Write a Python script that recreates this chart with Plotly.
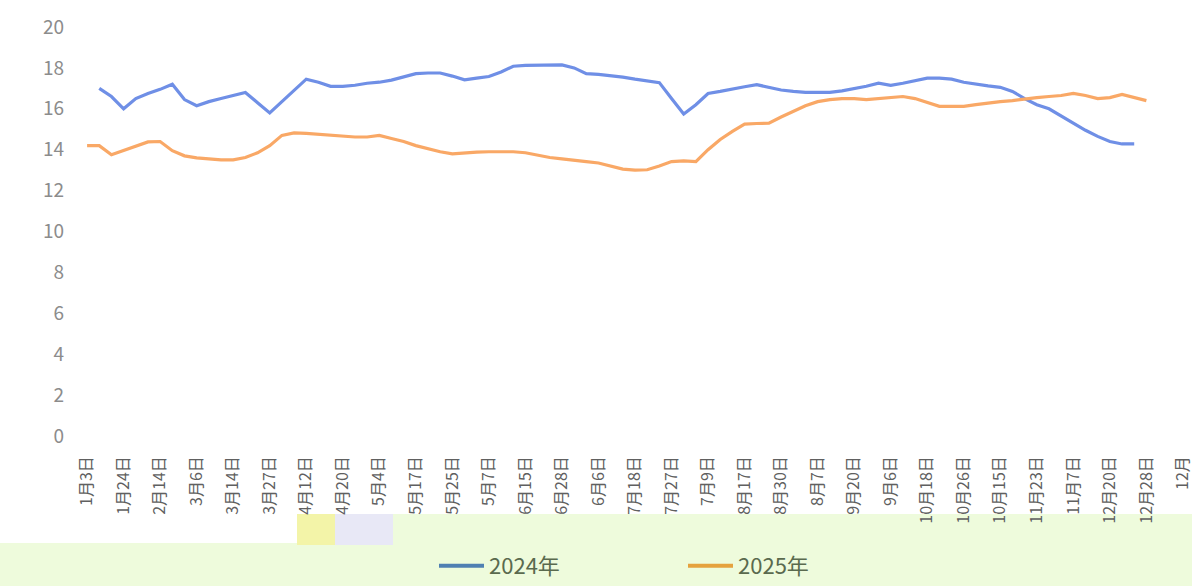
import plotly.graph_objects as go

# ---- data -------------------------------------------------------------
tick_labels = ["1月3日", "1月24日", "2月14日", "3月6日", "3月14日", "3月27日",
               "4月12日", "4月20日", "5月4日", "5月17日", "5月25日", "5月7日",
               "6月15日", "6月28日", "6月6日", "7月18日", "7月27日", "7月9日",
               "8月17日", "8月30日", "8月7日", "9月20日", "9月6日", "10月18日",
               "10月26日", "10月15日", "11月23日", "11月7日", "12月20日",
               "12月28日", "12月"]
label_step = 3
n_points = 91

series_2024 = [None, 17.0, 16.6, 16.0, 16.5, 16.75, 16.95, 17.2, 16.45, 16.15,
               16.35, 16.5, 16.65, 16.8, 16.3, 15.8, 16.35, 16.9, 17.45, 17.3,
               17.1, 17.1, 17.15, 17.25, 17.3, 17.4, 17.55, 17.72, 17.75, 17.75,
               17.6, 17.42, 17.5, 17.58, 17.8, 18.08, 18.12, 18.14, 18.15, 18.15,
               18.0, 17.72, 17.68, 17.62, 17.55, 17.45, 17.38, 17.28, 16.5, 15.75,
               16.2, 16.75, 16.85, 16.98, 17.08, 17.18, 17.05, 16.92, 16.85, 16.8,
               16.8, 16.8, 16.88, 16.98, 17.1, 17.25, 17.15, 17.25, 17.38, 17.5,
               17.5, 17.45, 17.3, 17.2, 17.12, 17.05, 16.85, 16.5, 16.2, 16.0,
               15.65, 15.3, 14.95, 14.65, 14.4, 14.28, 14.28, None, None, None, None]

series_2025 = [14.2, 14.2, 13.75, 13.95, 14.15, 14.38, 14.4, 13.95, 13.7, 13.6,
               13.55, 13.5, 13.5, 13.62, 13.85, 14.2, 14.7, 14.82, 14.8, 14.75,
               14.7, 14.65, 14.62, 14.62, 14.7, 14.55, 14.4, 14.2, 14.05, 13.9,
               13.8, 13.85, 13.88, 13.9, 13.9, 13.9, 13.85, 13.72, 13.62, 13.55,
               13.5, 13.42, 13.35, 13.2, 13.05, 13.0, 13.02, 13.2, 13.42, 13.45,
               13.42, 14.0, 14.5, 14.9, 15.25, 15.28, 15.3, 15.6, 15.88, 16.15,
               16.35, 16.45, 16.5, 16.5, 16.45, 16.5, 16.55, 16.6, 16.5, 16.3,
               16.12, 16.12, 16.12, 16.2, 16.28, 16.35, 16.4, 16.48, 16.55, 16.6,
               16.65, 16.75, 16.65, 16.5, 16.55, 16.7, 16.55, 16.4, None, None, None]

y_ticks = [0, 2, 4, 6, 8, 10, 12, 14, 16, 18, 20]
series_names = ["2024年", "2025年"]

# ---- styling ----------------------------------------------------------
W, H = 1192, 586
ML, MR, MT, MB = 81, 3, 27, 150
FONT = "Noto Sans CJK SC, Noto Sans, sans-serif"
line_colors = ["#6f8fe6", "#f9a866"]
legend_colors = ["#4f80b2", "#e5a23e"]
GREEN = "#eefbdc"

x_idx = list(range(n_points))
tick_vals = x_idx[::label_step]

fig = go.Figure()
for name, ys, c in zip(series_names, [series_2024, series_2025], line_colors):
    fig.add_trace(go.Scatter(x=x_idx, y=ys, mode="lines", name=name,
                             line=dict(color=c, width=3.2), showlegend=False,
                             connectgaps=False, hoverinfo="skip"))
for name, c in zip(series_names, legend_colors):
    fig.add_trace(go.Scatter(x=[None], y=[None], mode="lines", name=name,
                             line=dict(color=c, width=4), showlegend=True))

pw = W - ML - MR
ph = H - MT - MB


def px_x(p):
    return (p - ML) / pw


def px_y(p):
    return (H - MB - p) / ph


shapes = [
    dict(type="rect", xref="paper", yref="paper", layer="below",
         x0=px_x(0), x1=px_x(W), y0=px_y(543), y1=px_y(H),
         fillcolor=GREEN, line=dict(width=0)),
    dict(type="rect", xref="paper", yref="paper", layer="below",
         x0=px_x(297), x1=px_x(W), y0=px_y(514), y1=px_y(543),
         fillcolor=GREEN, line=dict(width=0)),
    dict(type="rect", xref="paper", yref="paper", layer="below",
         x0=px_x(297), x1=px_x(335), y0=px_y(514), y1=px_y(545),
         fillcolor="#f3f4a8", line=dict(width=0)),
    dict(type="rect", xref="paper", yref="paper", layer="below",
         x0=px_x(335), x1=px_x(393), y0=px_y(514), y1=px_y(545),
         fillcolor="#e8e8f6", line=dict(width=0)),
]

fig.update_layout(
    width=W, height=H,
    margin=dict(l=ML, r=MR, t=MT, b=MB, pad=0, autoexpand=False),
    paper_bgcolor="white", plot_bgcolor="white",
    font=dict(family=FONT),
    shapes=shapes,
    showlegend=True,
    legend=dict(orientation="h", x=px_x(434), xanchor="left",
                y=px_y(566), yanchor="middle",
                bgcolor="rgba(0,0,0,0)",
                font=dict(size=22, color="#5a6a4e", family=FONT),
                itemwidth=45,
                entrywidth=189, entrywidthmode="pixels"),
    xaxis=dict(range=[-0.5, n_points - 0.5], tickmode="array",
               tickvals=tick_vals, ticktext=tick_labels, tickangle=-90,
               tickfont=dict(size=16, color="#606060", family=FONT),
               showgrid=False, zeroline=False, showline=False, ticks="",
               ticklabelstandoff=16, automargin=False,
               ticklabeloverflow="allow"),
    yaxis=dict(range=[0, 20], tickmode="array", tickvals=y_ticks,
               tickfont=dict(size=19, color="#8c8c8c", family=FONT),
               showgrid=False, zeroline=False, showline=False, ticks="",
               ticklabelstandoff=16, automargin=False),
)

fig.write_html("out.html",
               config={"displayModeBar": False},
               post_script="document.body.style.margin='0';"
                           "document.body.style.overflow='hidden';")
